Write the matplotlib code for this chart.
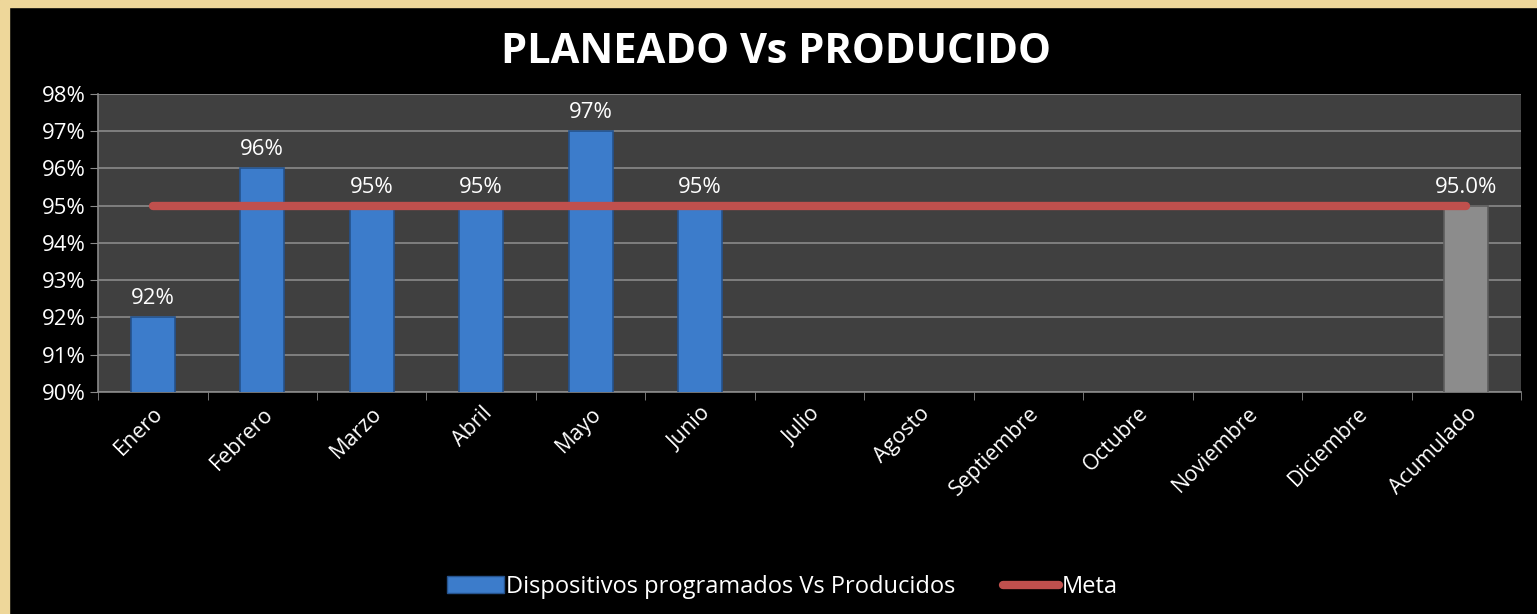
from matplotlib import pyplot as plt
from matplotlib.patches import Rectangle
from matplotlib.lines import Line2D
import numpy as np

# data
categorias = ["Enero", "Febrero", "Marzo", "Abril", "Mayo", "Junio", "Julio",
              "Agosto", "Septiembre", "Octubre", "Noviembre", "Diciembre", "Acumulado"]
producido = [92, 96, 95, 95, 97, 95, None, None, None, None, None, None, 95.0]
etiquetas = ["92%", "96%", "95%", "95%", "97%", "95%", "", "", "", "", "", "", "95.0%"]
meta = 95
y_ticks = [90, 91, 92, 93, 94, 95, 96, 97, 98]

plt.rcParams["font.family"] = ["Open Sans", "DejaVu Sans"]

fig = plt.figure(figsize=(15.37, 6.14), dpi=100, facecolor="black")
ax = fig.add_axes([0.0638, 0.3616, 0.9258, 0.4854])
ax.set_facecolor("#404040")

# orange frame strips (left and top)
fig.patches.append(Rectangle((0, 0), 9 / 1537, 1, transform=fig.transFigure,
                             color="#EED79A", zorder=0))
fig.patches.append(Rectangle((0, 1 - 7 / 614), 1, 7 / 614, transform=fig.transFigure,
                             color="#EED79A", zorder=0))

x = np.arange(len(categorias))
for i, v in enumerate(producido):
    if v is None:
        continue
    color = "#8C8C8C" if categorias[i] == "Acumulado" else "#3C7CCB"
    edge = "#5E5E5E" if categorias[i] == "Acumulado" else "#25528C"
    ax.bar(x[i], v, width=0.4, color=color, edgecolor=edge, linewidth=1.2, zorder=3)
    ax.text(x[i], v + 0.22, etiquetas[i], ha="center", va="bottom",
            color="white", fontsize=16, zorder=5)

ax.plot([x[0], x[-1]], [meta, meta], color="#C0504D", linewidth=6,
        solid_capstyle="round", zorder=4)

ax.set_xlim(-0.5, len(categorias) - 0.5)
ax.set_ylim(90, 98)
ax.set_yticks(y_ticks)
ax.set_yticklabels([f"{t}%" for t in y_ticks], color="white", fontsize=16)
ax.yaxis.grid(True, color="#8A8A8A", linewidth=1.2, zorder=1)
ax.set_axisbelow(True)

ax.set_xticks(x)
ax.set_xticklabels(categorias, rotation=45, ha="right", rotation_mode="anchor",
                   color="white", fontsize=15.5)
ax.set_xticks(np.arange(-0.5, len(categorias)), minor=True)
ax.tick_params(axis="x", which="major", length=0, pad=8)
ax.tick_params(axis="x", which="minor", length=6, color="#8A8A8A", direction="out")
ax.tick_params(axis="y", length=6, color="#8A8A8A", direction="out", pad=3)

for s in ["top", "right"]:
    ax.spines[s].set_visible(False)
for s in ["left", "bottom"]:
    ax.spines[s].set_color("#8A8A8A")
    ax.spines[s].set_linewidth(1.2)

fig.text(0.505, 0.915, "PLANEADO Vs PRODUCIDO", ha="center", va="center",
         color="white", fontsize=30, fontweight="bold")

handles = [Rectangle((0, 0), 1, 1, facecolor="#3C7CCB", edgecolor="#25528C"),
           Line2D([0], [0], color="#C0504D", linewidth=6, solid_capstyle="round")]
leg = fig.legend(handles, ["Dispositivos programados Vs Producidos", "Meta"],
                 loc="center", bbox_to_anchor=(0.509, 0.044), ncol=2, frameon=False,
                 fontsize=17, labelcolor="white", handlelength=2.4, handletextpad=0.1,
                 columnspacing=2.0)

plt.savefig("out.png", dpi=100, facecolor=fig.get_facecolor())
